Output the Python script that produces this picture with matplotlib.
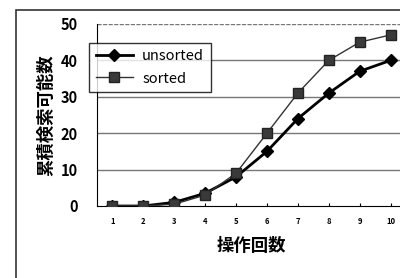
import matplotlib
matplotlib.use('Agg')
import matplotlib.pyplot as plt
from matplotlib.patches import Rectangle

plt.rcParams['font.family'] = ['Noto Sans CJK JP', 'DejaVu Sans']

steps = [1, 2, 3, 4, 5, 6, 7, 8, 9, 10]
unsorted = [0, 0, 1, 3.5, 8, 15, 24, 31, 37, 40]
sorted_ = [0, 0, 0.5, 3, 9, 20, 31, 40, 45, 47]
yticks = [0, 10, 20, 30, 40, 50]

fig = plt.figure(figsize=(4, 2.78), dpi=100)
# outer chart frame (clipped at right and bottom)
fig.patches.append(Rectangle((16 / 400, -0.1), 1.2, 1 - 10 / 278 + 0.1,
                             transform=fig.transFigure, fill=False,
                             edgecolor='#333333', lw=1.2))

ax = fig.add_axes([97 / 400, 1 - 206 / 278, 309 / 400, 182 / 278])
ax.set_xlim(0.5, 10.5)
ax.set_ylim(0, 50)
ax.set_yticks(yticks)
ax.set_yticklabels([str(v) for v in yticks], fontsize=10.5, fontweight='bold')
ax.set_xticks(steps)
ax.set_xticklabels([str(v) for v in steps], fontsize=5.5, fontweight='bold')
ax.tick_params(axis='y', length=0, pad=14)
ax.tick_params(axis='x', length=2, pad=8, direction='in')
for v in yticks[1:]:
    ax.axhline(v, color='#777777', lw=1, ls=(0, (3, 1)) if v == 50 else '-', zorder=0)
for s in ['top', 'right']:
    ax.spines[s].set_visible(False)
ax.spines['left'].set_linestyle((0, (2, 1)))
ax.spines['bottom'].set_linestyle((0, (2, 1)))

ax.plot(steps, unsorted, color='black', lw=2, marker='D', markersize=6, label='unsorted', zorder=3)
ax.plot(steps, sorted_, color='#333333', lw=1, marker='s', markersize=6.5,
        markerfacecolor='#3a3a3a', markeredgecolor='#222222', label='sorted', zorder=4)

leg = ax.legend(loc='upper left', bbox_to_anchor=(-0.026, 0.896), borderaxespad=0,
                fontsize=10.5, frameon=True, fancybox=False, edgecolor='black',
                handlelength=2.6, borderpad=0.45, labelspacing=0.55, handletextpad=0.6)
leg.get_frame().set_linewidth(1)

ax.set_ylabel('累積検索可能数', fontsize=12.5, fontweight='bold', labelpad=4)
ax.set_xlabel('操作回数', fontsize=12.5, fontweight='bold', labelpad=8)

fig.savefig('out.png', dpi=100)
